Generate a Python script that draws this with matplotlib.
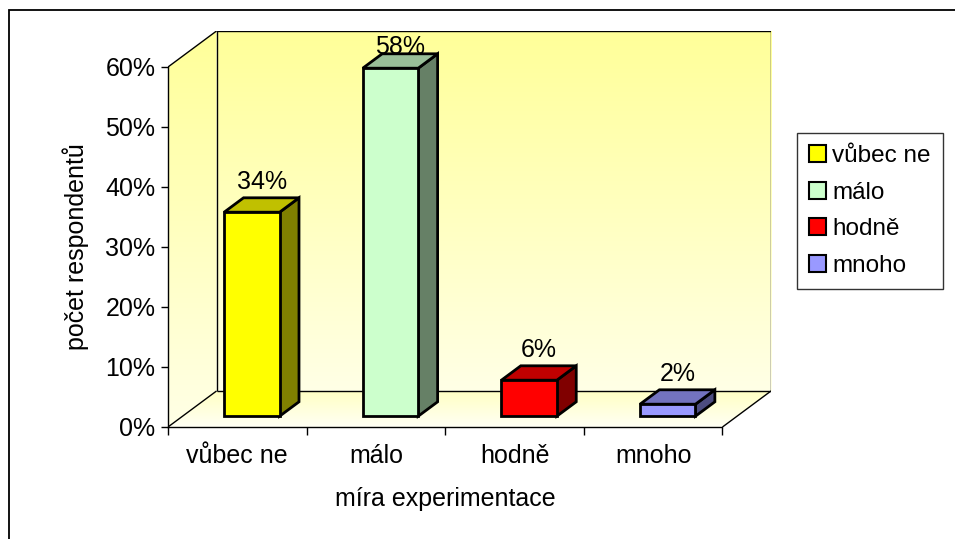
import matplotlib
matplotlib.use("Agg")
import matplotlib.pyplot as plt
import numpy as np
from matplotlib.patches import Polygon, Rectangle, Patch
from matplotlib.colors import LinearSegmentedColormap

categories = ["vůbec ne", "málo", "hodně", "mnoho"]
values = [34, 58, 6, 2]
y_ticks = [0, 10, 20, 30, 40, 50, 60]
x_title = "míra experimentace"
y_title = "počet respondentů"

front_colors = ["#FFFF00", "#CCFFCC", "#FF0000", "#9999FF"]
side_colors = ["#808000", "#668066", "#800000", "#4D4D80"]
top_colors = ["#C0C000", "#99BF99", "#C00000", "#7373BF"]

DX, DY = 0.35, 6.0    # depth of the 3-D box in data units
F0, F1 = 0.3, 0.7     # depth band occupied by the columns
BAR_W = 0.4
FS = 18

plt.rcParams["font.family"] = ["Liberation Sans", "DejaVu Sans"]

fig = plt.figure(figsize=(9.55, 5.39), dpi=100)
ax = fig.add_axes([168 / 955, 1 - 427 / 539, (771 - 168) / 955, (427 - 31) / 539])
ax.set_xlim(0, len(categories) + DX)
ax.set_ylim(0, y_ticks[-1] + DY)
n = len(categories)
top = y_ticks[-1]

# --- walls and floor with soft gradients ---
wall_cmap = LinearSegmentedColormap.from_list("wall", ["#FFFFE6", "#FFFF99"])
floor_cmap = LinearSegmentedColormap.from_list("floor", ["#FFFFF4", "#FFFFC4"])
grad = np.linspace(0, 1, 256).reshape(-1, 1)

ax.imshow(grad, extent=(DX, n + DX, DY, top + DY), origin="lower",
          cmap=wall_cmap, aspect="auto", zorder=0)

left_wall = Polygon([(0, 0), (0, top), (DX, top + DY), (DX, DY)], closed=True,
                    fc="none", ec="none")
ax.add_patch(left_wall)
im = ax.imshow(grad, extent=(0, DX, 0, top + DY), origin="lower",
               cmap=wall_cmap, aspect="auto", zorder=0)
im.set_clip_path(left_wall)

floor = Polygon([(0, 0), (n, 0), (n + DX, DY), (DX, DY)], closed=True,
                fc="none", ec="none")
ax.add_patch(floor)
im2 = ax.imshow(grad, extent=(0, n + DX, 0, DY), origin="lower",
                cmap=floor_cmap, aspect="auto", zorder=0.5)
im2.set_clip_path(floor)

# box edges
lk = dict(color="black", lw=1.0, zorder=1, solid_capstyle="butt")
ax.plot([DX, DX, n + DX, n + DX], [DY, top + DY, top + DY, DY], **lk)
ax.plot([0, DX], [top, top + DY], **lk)
ax.plot([0, DX], [0, DY], **lk)
ax.plot([DX, n + DX], [DY, DY], **lk)
ax.plot([n, n + DX], [0, DY], **lk)

# --- 3-D columns ---
for i, v in enumerate(values):
    x0 = i + 0.5 - BAR_W / 2 + F0 * DX
    x1 = x0 + BAR_W
    y0 = F0 * DY
    ox, oy = (F1 - F0) * DX, (F1 - F0) * DY
    kw = dict(closed=True, ec="black", lw=2.0, joinstyle="miter", zorder=3)
    ax.add_patch(Polygon([(x1, y0), (x1 + ox, y0 + oy), (x1 + ox, v + y0 + oy), (x1, v + y0)],
                         fc=side_colors[i], **kw))
    ax.add_patch(Polygon([(x0, v + y0), (x1, v + y0), (x1 + ox, v + y0 + oy), (x0 + ox, v + y0 + oy)],
                         fc=top_colors[i], **kw))
    ax.add_patch(Polygon([(x0, y0), (x1, y0), (x1, v + y0), (x0, v + y0)],
                         fc=front_colors[i], **kw))
    ly = min(v + F1 * DY + 0.6, top + 1.3)
    ax.text(i + 0.5 + 0.5 * DX, ly, f"{v}%", ha="center", va="bottom",
            fontsize=FS, zorder=4)

# --- axes ---
for s in ("top", "right"):
    ax.spines[s].set_visible(False)
ax.spines["left"].set_bounds(0, top)
ax.spines["bottom"].set_bounds(0, n)
for s in ("left", "bottom"):
    ax.spines[s].set_linewidth(1.0)
    ax.spines[s].set_zorder(2)

ax.set_yticks(y_ticks)
ax.set_yticklabels([f"{t}%" for t in y_ticks], fontsize=FS)
ax.set_xticks(range(n + 1))
ax.set_xticklabels([])
ax.set_xticks([i + 0.5 for i in range(n)], minor=True)
ax.set_xticklabels(categories, minor=True, fontsize=FS)
ax.tick_params(axis="y", length=5, width=1, pad=4)
ax.tick_params(axis="x", which="major", length=6, width=1)
ax.tick_params(axis="x", which="minor", length=0, pad=12)

# axis titles centred on the front face of the box
ax.set_xlabel(x_title, fontsize=FS)
ax.set_ylabel(y_title, fontsize=FS)
ax.xaxis.set_label_coords((n / 2) / (n + DX), -0.152)
ax.yaxis.set_label_coords(-0.131, (top / 2) / (top + DY))

# --- legend ---
handles = [Patch(fc=c, ec="black", lw=1.5) for c in front_colors]
leg = fig.legend(handles, categories, loc="upper left",
                 bbox_to_anchor=(797 / 955, 1 - 133 / 539),
                 fontsize=FS - 0.5, frameon=True, fancybox=False,
                 handlelength=0.7, handleheight=0.7, handletextpad=0.25,
                 labelspacing=0.6, borderpad=0.5, borderaxespad=0)
leg.get_frame().set_edgecolor("black")
leg.get_frame().set_linewidth(1.0)

# outer chart frame
fig.add_artist(Rectangle((9 / 955, -0.2), 1.2, 1.2 - 10 / 539,
                         transform=fig.transFigure, fill=False,
                         ec="black", lw=1.3))

fig.savefig("out.png", dpi=100)
